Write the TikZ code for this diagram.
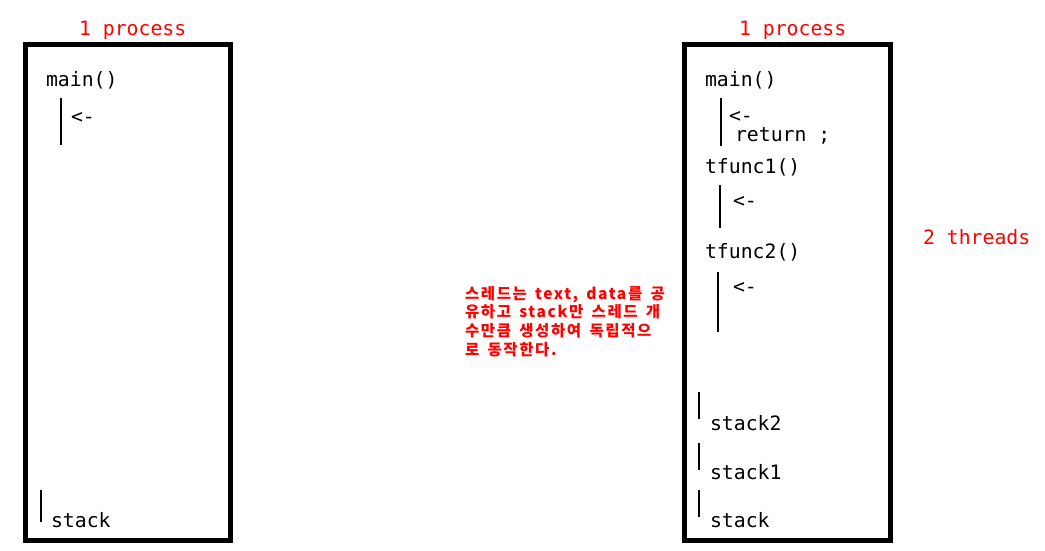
\documentclass[tikz,border=0pt]{standalone}
\usepackage{fontspec}
\newfontfamily\codefont{DejaVu Sans Mono}
\newfontfamily\kofont[LetterSpace=10.5, WordSpace=1.6]{Noto Sans CJK KR}
\usepackage{tikz}

\begin{document}
\begin{tikzpicture}[x=1pt, y=-1pt, every node/.style={inner sep=0pt, outer sep=0pt}, box/.style={draw=black, line width=5pt}, bar/.style={draw=black, line width=1.3pt}, code/.style={anchor=base west, font=\codefont\fontsize{19.8}{22}\selectfont}, label/.style={code, text=red}, note/.style={anchor=north west, align=left, text=red, font=\kofont\bfseries\fontsize{15.5}{18.8}\selectfont}]
			\useasboundingbox (0,0) rectangle (1045,551);
			\fill[white] (0,0) rectangle (1045,551);
			
			\draw[box] (25.5,44.5) rectangle (230.5,540.5);
			\draw[box] (684.5,44.5) rectangle (890.5,540.5);
			
			\node[label] (p1) at (79,36){1 process};
			\node[label] (p2) at (739,36){1 process};
			\node[label] (thr) at (923,244){2 threads};
			
			\node[code] (main1) at (46,87){main()};
			\node[code] (arr1) at (71,123){<-};
			\node[code] (stk1) at (51,527){stack};
			\draw[bar] (61,98) -- (61,145);
			\draw[bar] (41,490) -- (41,522);
			
			\node[code] (main2) at (705,87){main()};
			\node[code] (arr2) at (729,122){<-};
			\node[code] (ret) at (735,142){return ;};
			\node[code] (tf1) at (705,173){tfunc1()};
			\node[code] (arr3) at (733,207){<-};
			\node[code] (tf2) at (705,258){tfunc2()};
			\node[code] (arr4) at (733,293){<-};
			\draw[bar] (721,98) -- (721,146);
			\draw[bar] (720,185) -- (720,228);
			\draw[bar] (718,272) -- (718,332);
			
			\node[code] (s2) at (710,430){stack2};
			\node[code] (s1) at (710,479){stack1};
			\node[code] (s0) at (710,527){stack};
			\draw[bar] (699,392) -- (699,419);
			\draw[bar] (699,443) -- (699,470);
			\draw[bar] (699,490) -- (699,517);
			
			\node[note] (txt) at (465,286){스레드는 text, data를 공\\유하고 stack만 스레드 개\\수만큼 생성하여 독립적으\\로 동작한다.};
			\end{tikzpicture}
\end{document}
